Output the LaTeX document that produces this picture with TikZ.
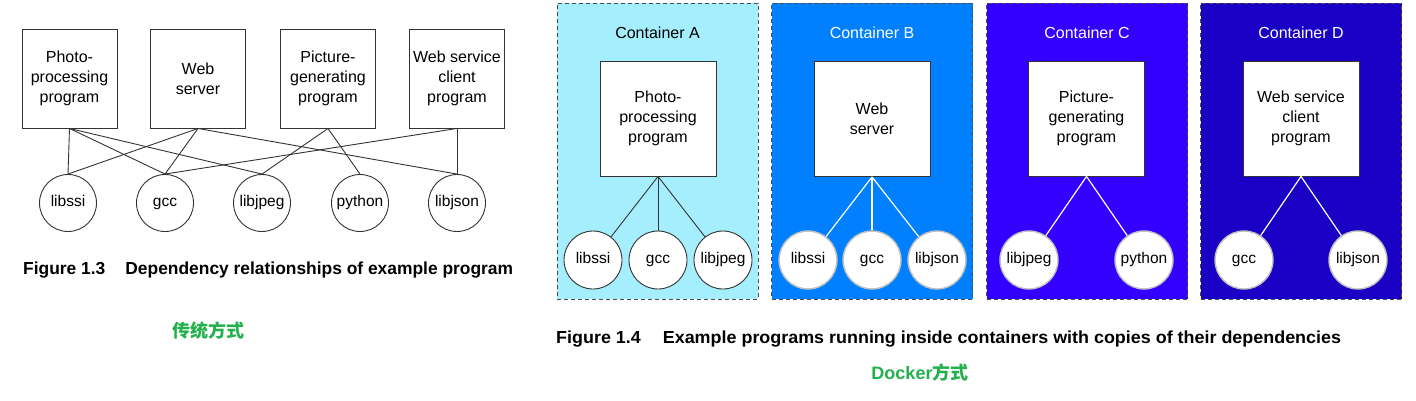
\documentclass[tikz,border=0pt]{standalone}
\usepackage{fontspec}
\setmainfont{Liberation Sans}
\newfontfamily\capfontB{Liberation Sans}[FakeStretch=1.03]
\newfontfamily\cjk{Noto Sans CJK SC}
\definecolor{lineg}{HTML}{333333}
\definecolor{cA}{HTML}{A5EEFE}
\definecolor{cB}{HTML}{0080FF}
\definecolor{cC}{HTML}{3300FF}
\definecolor{cD}{HTML}{1A00C4}
\definecolor{grn}{HTML}{22B14C}
\tikzset{
  prog/.style={draw=lineg, line width=0.9pt, fill=white, minimum width=95pt, minimum height=99pt, inner sep=0pt, align=center, font=\fontsize{16}{20}\selectfont},
  iprog/.style={draw=lineg, line width=0.9pt, fill=white, minimum width=116pt, minimum height=115pt, inner sep=0pt, align=center, font=\fontsize{16}{20}\selectfont},
  libtxt/.style={text height=11pt, text depth=3.5pt, font=\fontsize{15.5}{18}\selectfont},
  lib/.style={circle, draw=lineg, line width=0.9pt, fill=white, minimum size=57pt, inner sep=0pt, libtxt},
  ilib/.style={circle, draw=lineg, line width=0.9pt, fill=white, minimum size=58pt, inner sep=0pt, libtxt},
  wlib/.style={circle, draw=black!25, line width=1.4pt, fill=white, minimum size=58pt, inner sep=0pt, libtxt},
  dep/.style={draw=lineg, line width=0.9pt},
  wdep/.style={draw=white, line width=1.2pt},
  cont/.style={draw=black!70, line width=0.8pt, dash pattern=on 4pt off 3pt, minimum width=201pt, minimum height=296pt, inner sep=0pt},
  ctitle/.style={font=\fontsize{16}{20}\selectfont},
  capA/.style={font=\bfseries\fontsize{17.4}{20}\selectfont, inner sep=0pt},
  capB/.style={font=\capfontB\bfseries\fontsize{17.4}{20}\selectfont, inner sep=0pt},
  cn/.style={font=\cjk\bfseries\fontsize{18}{22}\selectfont, text=grn, inner sep=0pt}
}
\begin{document}
\begin{tikzpicture}[x=1pt,y=-1pt]
\useasboundingbox[fill=white] (0,0) rectangle (1416,400);
% ---------- Figure 1.3 ----------
\node[prog] (p1) at (69.5,78.5) {Photo-\\processing\\program};
\node[prog] (p2) at (198,78.5) {Web\\server};
\node[prog] (p3) at (328,78.5) {Picture-\\generating\\program};
\node[prog] (p4) at (457,78.5) {Web service\\client\\program};
\node[lib] (l1) at (68,203) {libssi};
\node[lib] (l2) at (165,203) {gcc};
\node[lib] (l3) at (262,203) {libjpeg};
\node[lib] (l4) at (360,203) {python};
\node[lib] (l5) at (457,203) {libjson};
\draw[dep] (p1.south) -- (l1.north);
\draw[dep] (p1.south) -- (l2.north);
\draw[dep] (p1.south) -- (l3.north);
\draw[dep] (p2.south) -- (l1.north);
\draw[dep] (p2.south) -- (l2.north);
\draw[dep] (p2.south) -- (l5.north);
\draw[dep] (p3.south) -- (l3.north);
\draw[dep] (p3.south) -- (l4.north);
\draw[dep] (p4.south) -- (l2.north);
\draw[dep] (p4.south) -- (l5.north);
\node[capA, anchor=base west] (cap3) at (23,274) {Figure 1.3\hspace{20pt}Dependency relationships of example program};
\node[cn, anchor=base] (cn3) at (208,337) {传统方式};
% ---------- Figure 1.4 ----------
\node[cont, fill=cA] (cA) at (657.5,151) {};
\node[cont, fill=cB] (cB) at (872,151) {};
\node[cont, fill=cC] (cC) at (1087,151) {};
\node[cont, fill=cD] (cD) at (1301,151) {};
\node[ctitle] (tA) at (657.5,33) {Container A};
\node[ctitle, text=white] (tB) at (872,33) {Container B};
\node[ctitle, text=white] (tC) at (1087,33) {Container C};
\node[ctitle, text=white] (tD) at (1301,33) {Container D};
% A
\node[iprog] (bA) at (658,118.5) {Photo-\\processing\\program};
\node[ilib] (a1) at (593,260) {libssi};
\node[ilib] (a2) at (658,260) {gcc};
\node[ilib] (a3) at (723,260) {libjpeg};
\draw[dep] (bA.south) -- (a1);
\draw[dep] (bA.south) -- (a2);
\draw[dep] (bA.south) -- (a3);
% B
\node[iprog] (bB) at (872,119) {Web\\server};
\node[wlib] (b1) at (808,260) {libssi};
\node[wlib] (b2) at (872,260) {gcc};
\node[wlib] (b3) at (937,260) {libjson};
\draw[wdep] (bB.south) -- (b1);
\draw[wdep] (bB.south) -- (b2);
\draw[wdep] (bB.south) -- (b3);
% C
\node[iprog] (bC) at (1086.5,118.5) {Picture-\\generating\\program};
\node[wlib] (c1) at (1029,260) {libjpeg};
\node[wlib] (c2) at (1144,260) {python};
\draw[wdep] (bC.south) -- (c1);
\draw[wdep] (bC.south) -- (c2);
% D
\node[iprog] (bD) at (1301,118.5) {Web service\\client\\program};
\node[wlib] (d1) at (1244,260) {gcc};
\node[wlib] (d2) at (1358,260) {libjson};
\draw[wdep] (bD.south) -- (d1);
\draw[wdep] (bD.south) -- (d2);
\node[capB, anchor=base west] (cap4) at (556,343) {Figure 1.4\hspace{22pt}Example programs running inside containers with copies of their dependencies};
\node[cn, anchor=base] (cn4) at (920,379) {{\rmfamily Docker}方式};
\end{tikzpicture}
\end{document}
